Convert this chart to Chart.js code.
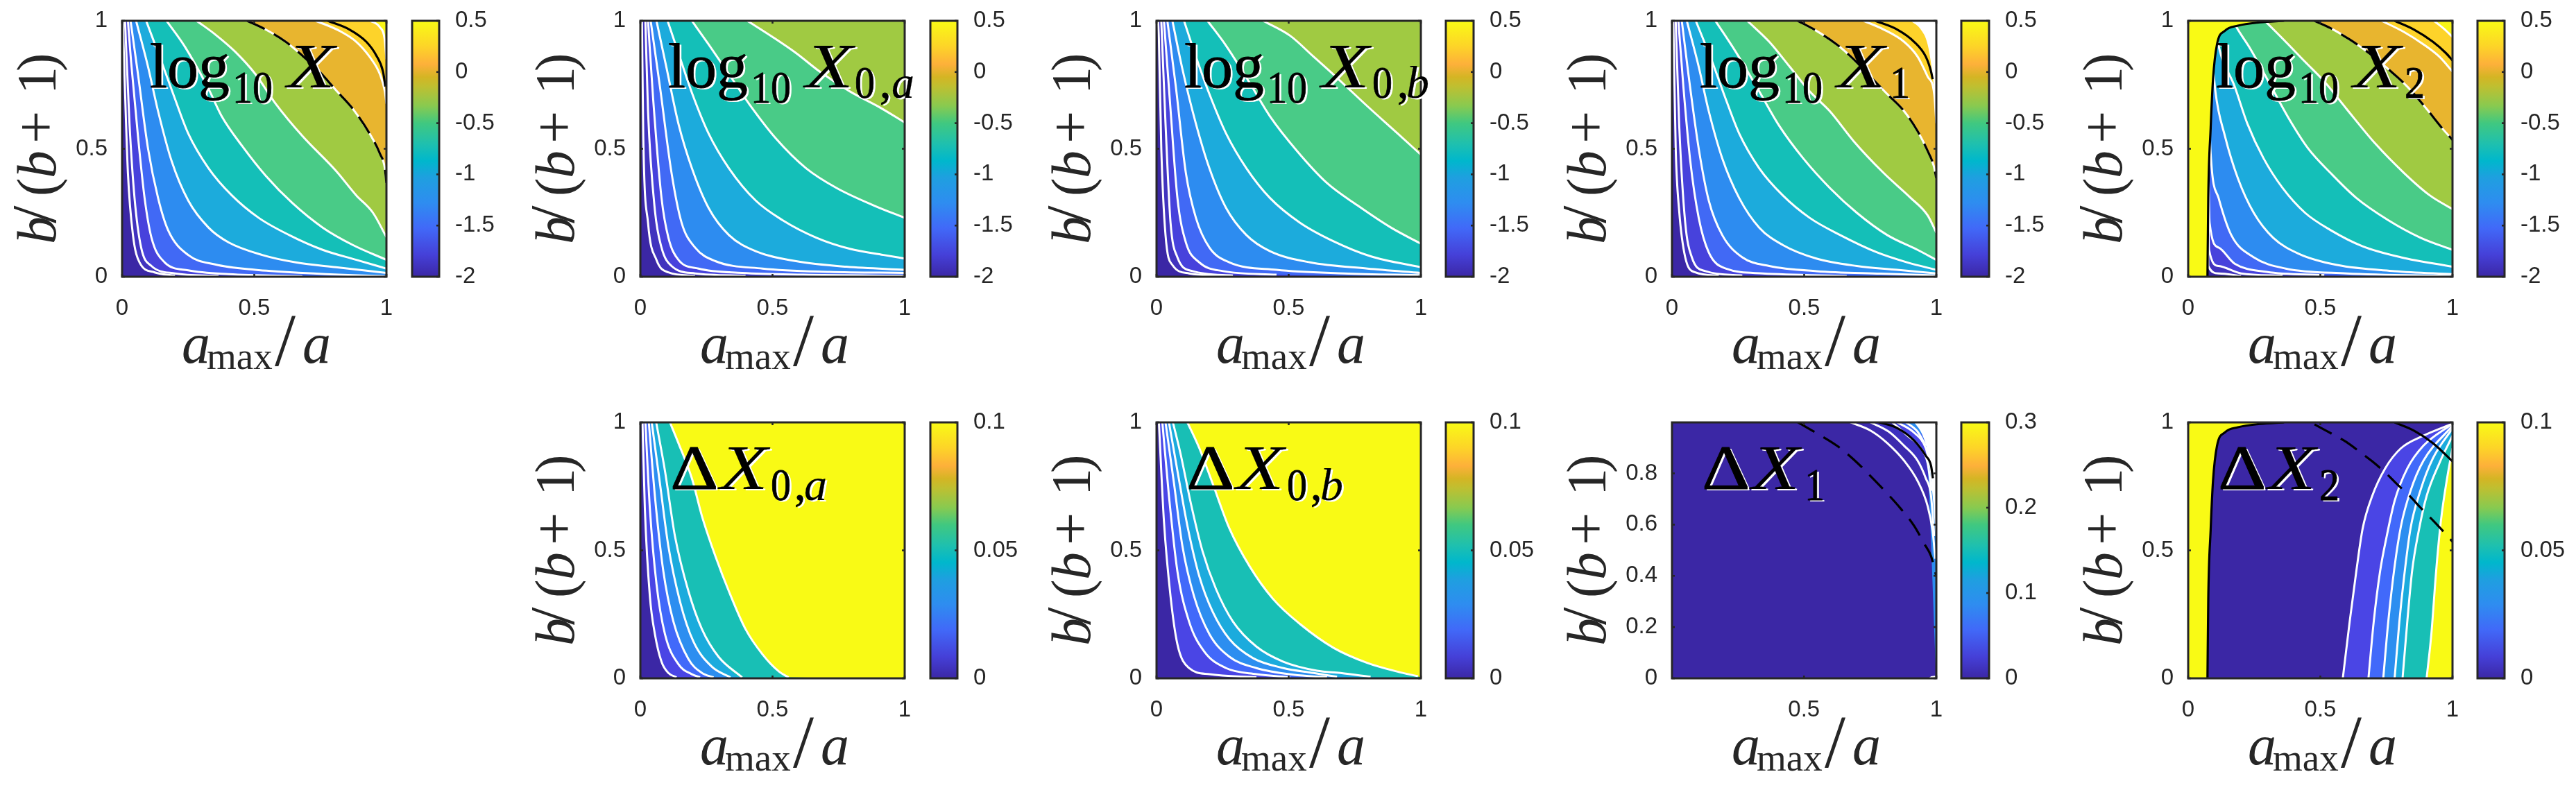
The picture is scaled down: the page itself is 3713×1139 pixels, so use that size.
<!DOCTYPE html>
<html><head><meta charset="utf-8">
<style>
html,body{margin:0;padding:0;background:#fff;overflow:hidden;width:3713px;height:1139px}
#stage{position:absolute;left:0;top:0;width:3713px;height:1139px}
canvas{position:absolute}
</style>
<script src="https://cdn.jsdelivr.net/npm/chart.js@4"></script>
</head><body><div id="stage"></div>
<script>
// ---------- colour levels ----------
const logBands=['#3B27A5','#4133BE','#4742DC','#4169F5','#2D8CF0','#1CABDC','#14BFB8','#49CB87','#A0CA42','#E8B52F','#FDD32A','#F8F516'];
const deltaBands=['#3B27A5','#4A45E5','#4169FA','#2C8EF0','#1BABDD','#18BFB5','#F9FA15'];
const delta1Bands=['#3B27A5','#3C2AAE','#3C30C0','#4A45E5','#4169F5','#2C8EF0','#FFFFFF'];
const cmapPos=[0,.085,.19,.29,.386,.453,.52,.6,.667,.745,.78,.83,.9,1];
const cmapCol=['#3B27A5','#4540D8','#4169F8','#2E8DF0','#1F9FE0','#00B7CC','#1FC0AE','#40C880','#88CA50','#C0BF30','#D4B524','#FDB03A','#FDD428','#F9FB15'];
// ---------- tick labels ----------
const unitTicks=['0','0.5','1'];
const delta1XTicks=['0.5','1'];
const delta1YTicks=['0','0.2','0.4','0.6','0.8'];
const logBarTicks=['-2','-1.5','-1','-0.5','0','0.5'];
const deltaBarTicks=['0','0.05','0.1'];
const delta1BarTicks=['0','0.1','0.2','0.3'];
// ---------- contours: log10 X ----------
const logX=[
[[.003,1],[.009,.792],[.022,.405],[.041,.163],[.066,.056],[.123,.017],[.2,.004]],
[[.011,1],[.028,.598],[.047,.308],[.072,.114],[.111,.042],[.2,.013],[.365,.003]],
[[.022,1],[.034,.84],[.06,.55],[.085,.308],[.111,.153],[.161,.056],[.25,.025],[.403,.01],[.682,.002]],
[[.032,1],[.06,.792],[.098,.501],[.136,.308],[.174,.182],[.25,.085],[.352,.048],[.504,.027],[.682,.015],[.873,.006],[1,.002]],
[[.053,1],[.098,.821],[.136,.647],[.187,.453],[.25,.298],[.327,.192],[.403,.134],[.53,.085],[.657,.056],[.809,.037],[1,.015]],
[[.091,1],[.149,.84],[.2,.695],[.25,.56],[.327,.424],[.415,.318],[.517,.23],[.632,.163],[.759,.105],[.886,.066],[1,.032]],
[[.168,1],[.238,.898],[.327,.734],[.377,.627],[.454,.511],[.543,.395],[.644,.288],[.759,.192],[.873,.124],[1,.066]],
[[.282,1],[.352,.947],[.428,.879],[.504,.792],[.581,.676],[.682,.55],[.809,.414],[.886,.318],[.949,.25],[1,.155]],
[[.473,1],[.543,.966],[.619,.918],[.682,.864],[.746,.802],[.809,.729],[.873,.656],[.936,.56],[.975,.482],[.994,.424],[1,.366]],
[[.733,1],[.822,.961],[.886,.918],[.936,.86],[.975,.792],[.994,.724],[1,.676]],
[[.94,1],[.975,.975],[.993,.93],[1,.85]]];
const logXSolid=[[.778,1],[.86,.966],[.924,.918],[.962,.864],[.987,.802],[.996,.743]];
// ---------- contours: log10 X0,a ----------
const logX0a=[
[[.006,1],[.011,.55],[.029,.211],[.061,.066],[.106,.017],[.207,.003]],
[[.019,1],[.029,.647],[.055,.259],[.08,.114],[.118,.042],[.207,.013],[.398,.004]],
[[.029,1],[.048,.7],[.08,.308],[.106,.153],[.144,.066],[.22,.032],[.385,.015],[.615,.008],[1,.004]],
[[.039,1],[.074,.743],[.118,.405],[.156,.211],[.207,.114],[.284,.061],[.462,.032],[.716,.019],[1,.015]],
[[.061,1],[.099,.816],[.144,.598],[.195,.424],[.258,.269],[.335,.163],[.436,.1],[.589,.061],[.78,.039],[1,.027]],
[[.103,1],[.144,.874],[.195,.719],[.258,.56],[.335,.424],[.436,.298],[.538,.221],[.665,.153],[.793,.109],[.92,.085],[1,.071]],
[[.195,1],[.258,.908],[.335,.792],[.411,.676],[.513,.54],[.627,.424],[.742,.347],[.882,.279],[1,.23]],
[[.405,1],[.5,.937],[.589,.874],[.678,.802],[.793,.724],[.907,.661],[1,.603]]];
// ---------- contours: log10 X0,b ----------
const logX0b=[
[[.006,1],[.009,.927],[.018,.501],[.034,.163],[.06,.046],[.123,.013],[.25,.002]],
[[.018,1],[.034,.598],[.053,.211],[.079,.076],[.136,.022],[.289,.005]],
[[.028,1],[.05,.695],[.079,.308],[.111,.134],[.162,.056],[.251,.022],[.454,.008]],
[[.041,1],[.073,.743],[.111,.405],[.149,.23],[.2,.114],[.276,.056],[.454,.027],[.709,.013],[1,.006]],
[[.06,1],[.098,.811],[.149,.598],[.2,.424],[.263,.269],[.34,.163],[.429,.1],[.581,.056],[.798,.032],[1,.015]],
[[.104,1],[.149,.86],[.2,.714],[.263,.56],[.34,.424],[.429,.308],[.543,.211],[.671,.138],[.81,.08],[1,.037]],
[[.193,1],[.263,.903],[.352,.758],[.429,.627],[.531,.492],[.645,.366],[.76,.279],[.887,.192],[1,.129]],
[[.403,1],[.505,.942],[.594,.86],[.683,.777],[.798,.666],[.912,.56],[1,.477]]];
// ---------- contours: log10 X1 ----------
const logX1=[
[[.005,1],[.014,.501],[.027,.259],[.05,.076],[.088,.017],[.177,.004]],
[[.014,1],[.027,.598],[.05,.211],[.075,.076],[.126,.022],[.266,.005]],
[[.024,1],[.043,.743],[.069,.453],[.101,.23],[.139,.095],[.203,.032],[.343,.013],[.661,.003]],
[[.037,1],[.062,.792],[.101,.501],[.139,.298],[.19,.163],[.266,.076],[.368,.042],[.546,.022],[.789,.012],[1,.005]],
[[.056,1],[.101,.821],[.139,.647],[.19,.463],[.254,.308],[.33,.192],[.419,.124],[.546,.071],[.699,.042],[.852,.027],[1,.013]],
[[.09,1],[.152,.84],[.203,.695],[.254,.56],[.33,.424],[.419,.318],[.521,.23],[.636,.163],[.776,.095],[.89,.056],[1,.027]],
[[.164,1],[.241,.879],[.33,.724],[.406,.589],[.496,.463],[.597,.347],[.699,.25],[.814,.163],[.929,.105],[1,.066]],
[[.285,1],[.368,.918],[.445,.821],[.521,.724],[.597,.647],[.687,.53],[.801,.405],[.903,.308],[.967,.24],[1,.172]],
[[.476,1],[.546,.961],[.623,.908],[.687,.85],[.75,.782],[.814,.714],[.878,.647],[.929,.569],[.967,.492],[.99,.434],[1,.385]],
[[.725,1],[.801,.966],[.878,.918],[.929,.86],[.967,.782],[.992,.714],[1,.6]]];
const logX1Edge=[[.903,1],[.941,.966],[.967,.908],[.983,.811],[.995,.695],[1,.627]];
const logX1Solid=[[.769,1],[.852,.966],[.916,.918],[.96,.86],[.98,.802],[.986,.772]];
// ---------- contours: log10 X2 ----------
const logX2=[
[[.07,1],[.076,.042],[.115,.013],[.2,.003]],
[[.07,1],[.079,.105],[.115,.042],[.2,.013],[.357,.004]],
[[.07,1],[.081,.211],[.115,.114],[.176,.051],[.297,.019],[.515,.006]],
[[.07,1],[.085,.482],[.115,.308],[.163,.163],[.248,.076],[.369,.032],[.599,.013],[1,.003]],
[[.08,1],[.103,.724],[.139,.55],[.188,.385],[.248,.25],[.321,.153],[.418,.09],[.563,.046],[.781,.022],[1,.01]],
[[.1,1],[.115,.903],[.176,.743],[.224,.598],[.285,.463],[.357,.347],[.442,.25],[.539,.182],[.66,.119],[.805,.076],[1,.039]],
[[.17,1],[.182,.976],[.236,.889],[.309,.753],[.381,.618],[.454,.501],[.539,.405],[.636,.308],[.757,.221],[.878,.153],[1,.105]],
[[.29,1],[.369,.918],[.442,.84],[.515,.763],[.599,.656],[.708,.52],[.817,.405],[.914,.318],[1,.264]],
[[.478,1],[.539,.971],[.611,.927],[.684,.874],[.757,.811],[.829,.743],[.902,.656],[.962,.579],[1,.535]],
[[.732,1],[.817,.956],[.89,.908],[.95,.86],[1,.802]],
[[.93,1],[.971,.966],[1,.937]]];
const logX2Solid=[[.781,1],[.854,.966],[.926,.918],[.975,.874],[1,.845]];
const validEdge=[[0,0],[.073,0],[.076,.308],[.085,.579],[.094,.772],[.109,.908],[.139,.961],[.188,.981],[.272,.994],[.363,1]];
// ---------- contours: Delta X0,a ----------
const dX0a=[
[[.008,1],[.017,.663],[.036,.32],[.055,.173],[.08,.065],[.106,.021],[.137,.004]],
[[.019,1],[.036,.663],[.061,.369],[.093,.173],[.144,.055],[.195,.016],[.226,.004]],
[[.032,1],[.055,.712],[.087,.418],[.125,.222],[.182,.075],[.233,.021],[.277,.004]],
[[.043,1],[.074,.762],[.106,.516],[.15,.3],[.201,.143],[.271,.045],[.341,.004]],
[[.06,1],[.093,.811],[.131,.555],[.182,.34],[.233,.192],[.296,.084],[.385,.004]],
[[.112,1],[.144,.919],[.195,.781],[.233,.634],[.284,.477],[.335,.34],[.398,.192],[.462,.094],[.525,.026],[.561,.004]]];
// ---------- contours: Delta X0,b ----------
const dX0b=[
[[.009,1],[.028,.614],[.053,.32],[.079,.133],[.123,.04],[.2,.016],[.378,.004]],
[[.022,1],[.047,.712],[.079,.418],[.123,.222],[.181,.104],[.263,.04],[.378,.016],[.505,.004]],
[[.034,1],[.066,.762],[.098,.516],[.142,.32],[.2,.173],[.276,.084],[.378,.04],[.518,.014],[.645,.004]],
[[.047,1],[.079,.811],[.117,.595],[.162,.398],[.212,.261],[.276,.153],[.365,.079],[.48,.04],[.594,.021],[.683,.006]],
[[.062,1],[.092,.872],[.13,.683],[.174,.497],[.225,.349],[.289,.222],[.378,.124],[.48,.065],[.607,.03],[.696,.021],[.81,.006]],
[[.117,1],[.162,.899],[.212,.762],[.276,.585],[.352,.438],[.441,.31],[.543,.212],[.67,.119],[.798,.06],[.912,.026],[.989,.008]]];
// ---------- contours: Delta X1 ----------
const dX1=[
[[.674,1],[.75,.968],[.814,.919],[.878,.85],[.929,.771],[.967,.673],[.986,.575],[.996,.467]],
[[.75,1],[.82,.963],[.878,.908],[.929,.85],[.96,.781],[.98,.712],[.992,.555]],
[[.833,1],[.89,.948],[.941,.899],[.967,.84],[.982,.732]],
[[.852,1],[.916,.959],[.96,.899],[.977,.83]],
[[.884,1],[.929,.963],[.96,.908]]];
const dX1Edge=[[.916,1],[.948,.948],[.967,.878],[.986,.712],[1,.516]];
const dX1Solid=[[.782,1],[.852,.977],[.916,.928],[.96,.869],[.98,.83],[.987,.781]];
const dX1Dash=[[.476,1],[.546,.958],[.623,.909],[.687,.855],[.75,.791],[.814,.722],[.865,.663],[.916,.595],[.954,.526],[.98,.477],[1,.398]];
const dX1Spot=[[.97,0],[.98,.008],[.995,.01],[1,0]];
// ---------- contours: Delta X2 ----------
const dX2=[
[[.585,0],[.611,.222],[.636,.418],[.66,.585],[.696,.712],[.745,.82],[.805,.899],[.89,.948],[1,.995]],
[[.682,0],[.702,.222],[.726,.418],[.751,.555],[.781,.693],[.829,.82],[.89,.909],[1,.995]],
[[.738,0],[.757,.222],[.781,.438],[.805,.595],[.841,.732],[.89,.85],[1,.987]],
[[.781,0],[.799,.222],[.817,.398],[.841,.585],[.878,.732],[.926,.86],[1,.977]],
[[.811,0],[.829,.222],[.847,.418],[.872,.575],[.902,.712],[.95,.84],[1,.948]],
[[.902,0],[.92,.173],[.938,.418],[.956,.614],[.981,.791],[1,.899]]];
const dX2Solid=[[.781,1],[.854,.968],[.926,.919],[1,.848]];
const dX2Dash=[[.478,.992],[.539,.958],[.599,.923],[.654,.881],[.696,.848],[.751,.799],[.787,.762],[.842,.708],[.878,.668],[.932,.611],[.969,.57],[1,.534]];

// ---------- layout ----------
const ink='#262626', mathFont='"Liberation Serif"', tickFont='"Liberation Sans"';
const rowTop={T:30,B:399}, rowBot={T:609,B:978};
const stage=document.getElementById('stage');

const logTitle=(extra)=>[
 {t:'log',x:40,y:96,f:90},{t:'10',x:159,y:118,f:66,sx:.88},{t:'X',x:238,y:96,f:92,it:1,sx:1.22}].concat(extra||[]);
const dTitle=(extra)=>[
 {t:'\u0394',x:43,y:96,f:90,sx:1.2},{t:'X',x:115,y:96,f:92,it:1,sx:1.22}].concat(extra||[]);

const panels=[
{row:rowTop,L:176,R:557,cb:[594,633],curves:logX,bands:logBands,dir:'end',solid:logXSolid,dash:logX[8],title:logTitle(),bar:[-2,.5,logBarTicks]},
{row:rowTop,L:923,R:1304,cb:[1341,1380],curves:logX0a,bands:logBands,dir:'end',title:logTitle([{t:'0',x:309,y:111,f:66,sx:.88},{t:',',x:345,y:111,f:66},{t:'a',x:362,y:111,f:66,it:1}]),bar:[-2,.5,logBarTicks]},
{row:rowTop,L:1667,R:2048,cb:[2084,2124],curves:logX0b,bands:logBands,dir:'end',title:logTitle([{t:'0',x:311,y:111,f:66,sx:.88},{t:',',x:347,y:111,f:66},{t:'b',x:360,y:111,f:66,it:1}]),bar:[-2,.5,logBarTicks]},
{row:rowTop,L:2410,R:2791,cb:[2827,2867],curves:logX1,bands:logBands,dir:'end',edge:logX1Edge,edgeColor:'#FFFFFF',solid:logX1Solid,dash:logX1[8],title:logTitle([{t:'1',x:314,y:111,f:66,sx:.88}]),bar:[-2,.5,logBarTicks]},
{row:rowTop,L:3154,R:3535,cb:[3571,3610],curves:logX2,bands:logBands,dir:'end',edge:validEdge,edgeColor:'#F9FA15',solid:logX2Solid,dash:logX2[8],wall:validEdge,title:logTitle([{t:'2',x:312,y:111,f:66,sx:.88}]),bar:[-2,.5,logBarTicks]},
{row:rowBot,L:923,R:1304,cb:[1341,1380],curves:dX0a,bands:deltaBands,dir:'end',title:dTitle([{t:'0',x:188,y:112,f:66,sx:.88},{t:',',x:222,y:112,f:66},{t:'a',x:236,y:112,f:66,it:1}]),bar:[0,.1,deltaBarTicks]},
{row:rowBot,L:1667,R:2048,cb:[2084,2124],curves:dX0b,bands:deltaBands,dir:'end',title:dTitle([{t:'0',x:188,y:112,f:66,sx:.88},{t:',',x:222,y:112,f:66},{t:'b',x:236,y:112,f:66,it:1}]),bar:[0,.1,deltaBarTicks]},
{row:rowBot,L:2410,R:2791,cb:[2827,2867],curves:dX1,bands:delta1Bands,dir:'end',edge:dX1Edge,edgeColor:'#FFFFFF',spot:dX1Spot,solid:dX1Solid,dash:dX1Dash,xt:delta1XTicks,yt:delta1YTicks,xmin:.0013,ymax:.999,title:dTitle([{t:'1',x:191,y:112,f:66,sx:.88}]),bar:[0,.3,delta1BarTicks]},
{row:rowBot,L:3154,R:3535,cb:[3571,3610],curves:dX2,bands:deltaBands,dir:'start',edge:validEdge,edgeColor:'#F9FA15',solid:dX2Solid,dash:dX2Dash,wall:validEdge,title:dTitle([{t:'2',x:189,y:112,f:66,sx:.88}]),bar:[0,.1,deltaBarTicks]}
];

function pts(a){return a.map(p=>({x:p[0],y:p[1]}));}
function makeCanvas(left,top,w,h){const c=document.createElement('canvas');c.width=w;c.height=h;c.style.left=left+'px';c.style.top=top+'px';c.style.width=w+'px';c.style.height=h+'px';stage.appendChild(c);return c;}

function drawSegs(ctx,segs){for(const s of segs){ctx.save();ctx.translate(s.x,s.y);if(s.rot)ctx.rotate(s.rot);if(s.sx)ctx.scale(s.sx,1);
 ctx.font=(s.it?'italic ':'')+s.f+'px '+mathFont;ctx.textBaseline='alphabetic';ctx.textAlign='left';ctx.fillStyle=s.color;
 if(s.stroke){ctx.strokeStyle=s.color;ctx.lineWidth=s.stroke;ctx.strokeText(s.t,0,0);}
 ctx.fillText(s.t,0,0);ctx.restore();}}

const xLabel=[{t:'a',x:86,y:124,f:82,it:1},{t:'max',x:122,y:133,f:55},{t:'/',x:220,y:128,f:108},{t:'a',x:260,y:124,f:82,it:1}];
const yLabel=[{t:'b',d:47,f:80,it:1},{t:'/',d:77,f:92},{t:'(',d:116,f:80},{t:'b',d:142,f:80,it:1},{t:'+',d:192,f:84},{t:'1',d:263,f:80},{t:')',d:296,f:80}];

const framePlugin={id:'frame',afterDraw(chart,args,o){
 const a=chart.chartArea,c=chart.ctx;c.save();c.strokeStyle=ink;c.lineWidth=3;c.strokeRect(a.left,a.top,a.width,a.height);
 c.lineWidth=2.6;const tl=4;
 if(o.bar){chart.scales.y.ticks.forEach(t=>{const p=chart.scales.y.getPixelForValue(t.value);c.beginPath();c.moveTo(a.right,p);c.lineTo(a.right-tl,p);c.stroke();});}
 else{chart.scales.x.ticks.forEach(t=>{const p=chart.scales.x.getPixelForValue(t.value);c.beginPath();c.moveTo(p,a.bottom);c.lineTo(p,a.bottom-tl);c.moveTo(p,a.top);c.lineTo(p,a.top+tl);c.stroke();});
  chart.scales.y.ticks.forEach(t=>{const p=chart.scales.y.getPixelForValue(t.value);c.beginPath();c.moveTo(a.left,p);c.lineTo(a.left+tl,p);c.moveTo(a.right,p);c.lineTo(a.right-tl,p);c.stroke();});}
 c.restore();
 if(o.bar)return;
 // axis titles
 c.save();c.translate(a.left,a.bottom);drawSegs(c,xLabel.map(s=>({...s,color:ink})));c.restore();
 c.save();c.translate(a.left-96,a.bottom);drawSegs(c,yLabel.map(s=>({...s,x:0,y:-s.d,rot:-Math.PI/2,color:ink})));c.restore();
 // panel title with its white offset copy
 c.save();c.translate(a.left,a.top);
 drawSegs(c,o.title.map(s=>({...s,x:s.x+3,y:s.y+2.2,color:'#FFFFFF'})));
 drawSegs(c,o.title.map(s=>({...s,color:'#000000',stroke:s.it?.2:.8})));
 c.restore();
}};

function fixedAxes(yw,xh){return {
 y:s=>{s.width=yw;s.paddingTop=0;s.paddingBottom=0;},
 x:s=>{s.height=xh;s.paddingLeft=0;s.paddingRight=0;}};}
function setTicks(list){return s=>{s.ticks=list.map(v=>({value:parseFloat(v),label:v}));};}

panels.forEach(p=>{
 const T=p.row.T,B=p.row.B,w0=p.R-p.L;
 const padL=170,padT=26,padB=156,yw=90,xh=90;
 const W=Math.round(padL+w0+12),H=Math.round(B-T+padT+padB);
 const ym=p.ymax||1,xm=p.xmin||0;
 const ds=[];
 ds.push({data:pts([[xm,ym],[1,ym]]),fill:'start',backgroundColor:p.bands[0],borderWidth:0});
 p.curves.forEach((cv,i)=>{
  const d=pts(cv);
  if(d[d.length-1].x<1)d.push({x:1,y:0});
  ds.push({data:d,fill:p.dir,backgroundColor:p.bands[i+1],borderWidth:0,cubicInterpolationMode:'monotone'});
 });
 p.curves.forEach(cv=>ds.push({data:pts(cv),fill:false,borderColor:'#FFFFFF',borderWidth:3,cubicInterpolationMode:'monotone'}));
 if(p.edge)ds.push({data:pts(p.edge),fill:'end',backgroundColor:p.edgeColor,borderWidth:0,cubicInterpolationMode:'monotone'});
 if(p.spot)ds.push({data:pts(p.spot),fill:'start',backgroundColor:'#FFFFFF',borderWidth:0});
 if(p.wall)ds.push({data:pts(p.wall.slice(1)),fill:false,borderColor:'#000000',borderWidth:3.2,cubicInterpolationMode:'monotone'});
 if(p.dash)ds.push({data:pts(p.dash),fill:false,borderColor:'#000000',borderWidth:3.2,borderDash:[28,15],cubicInterpolationMode:'monotone'});
 if(p.solid)ds.push({data:pts(p.solid),fill:false,borderColor:'#000000',borderWidth:3.2,cubicInterpolationMode:'monotone'});
 ds.forEach((d,i)=>{d.order=-i;d.pointRadius=0;d.showLine=true;d.clip=0;});
 const fx=fixedAxes(yw,xh);
 const c=makeCanvas(Math.round(p.L-padL),Math.round(T-padT),W,H);
 new Chart(c,{type:'scatter',data:{datasets:ds},plugins:[framePlugin],options:{
  responsive:false,animation:false,devicePixelRatio:1,events:[],
  layout:{padding:{left:padL-yw,top:padT,right:W-padL-w0,bottom:padB-xh}},
  plugins:{legend:{display:false},tooltip:{enabled:false},frame:{title:p.title,bar:false}},
  scales:{
   x:{type:'linear',min:xm,max:1,grid:{display:false},border:{display:false},afterBuildTicks:setTicks(p.xt||unitTicks),afterFit:fx.x,
      ticks:{autoSkip:false,maxRotation:0,padding:18,color:ink,font:{family:tickFont,size:33},callback:(v)=>String(v)}},
   y:{type:'linear',min:0,max:ym,grid:{display:false},border:{display:false},afterBuildTicks:setTicks(p.yt||unitTicks),afterFit:fx.y,
      ticks:{autoSkip:false,padding:13,color:ink,font:{family:tickFont,size:33},callback:(v)=>String(v)}}
  }}});
 // colour bar
 const bw=p.cb[1]-p.cb[0],rw=110,W2=bw+6+rw;
 const fy=fixedAxes(rw,0);
 const c2=makeCanvas(p.cb[0]-6,Math.round(T-padT),W2,H);
 new Chart(c2,{type:'bar',data:{labels:['colour'],datasets:[{data:[[p.bar[0],p.bar[1]]],barPercentage:1,categoryPercentage:1,borderWidth:0,
   backgroundColor:ctx=>{const a=ctx.chart.chartArea;if(!a)return cmapCol[0];const g=ctx.chart.ctx.createLinearGradient(0,a.bottom,0,a.top);cmapPos.forEach((q,i)=>g.addColorStop(q,cmapCol[i]));return g;}}]},
  plugins:[framePlugin],options:{responsive:false,animation:false,devicePixelRatio:1,events:[],
  layout:{padding:{left:6,top:padT,right:0,bottom:padB}},
  plugins:{legend:{display:false},tooltip:{enabled:false},frame:{bar:true}},
  scales:{x:{display:false},
   y:{position:'right',min:p.bar[0],max:p.bar[1],grid:{display:false},border:{display:false},afterBuildTicks:setTicks(p.bar[2]),afterFit:fy.y,
      ticks:{autoSkip:false,padding:15,color:ink,font:{family:tickFont,size:33},callback:v=>String(v)}}
  }}});
});
</script></body></html>
